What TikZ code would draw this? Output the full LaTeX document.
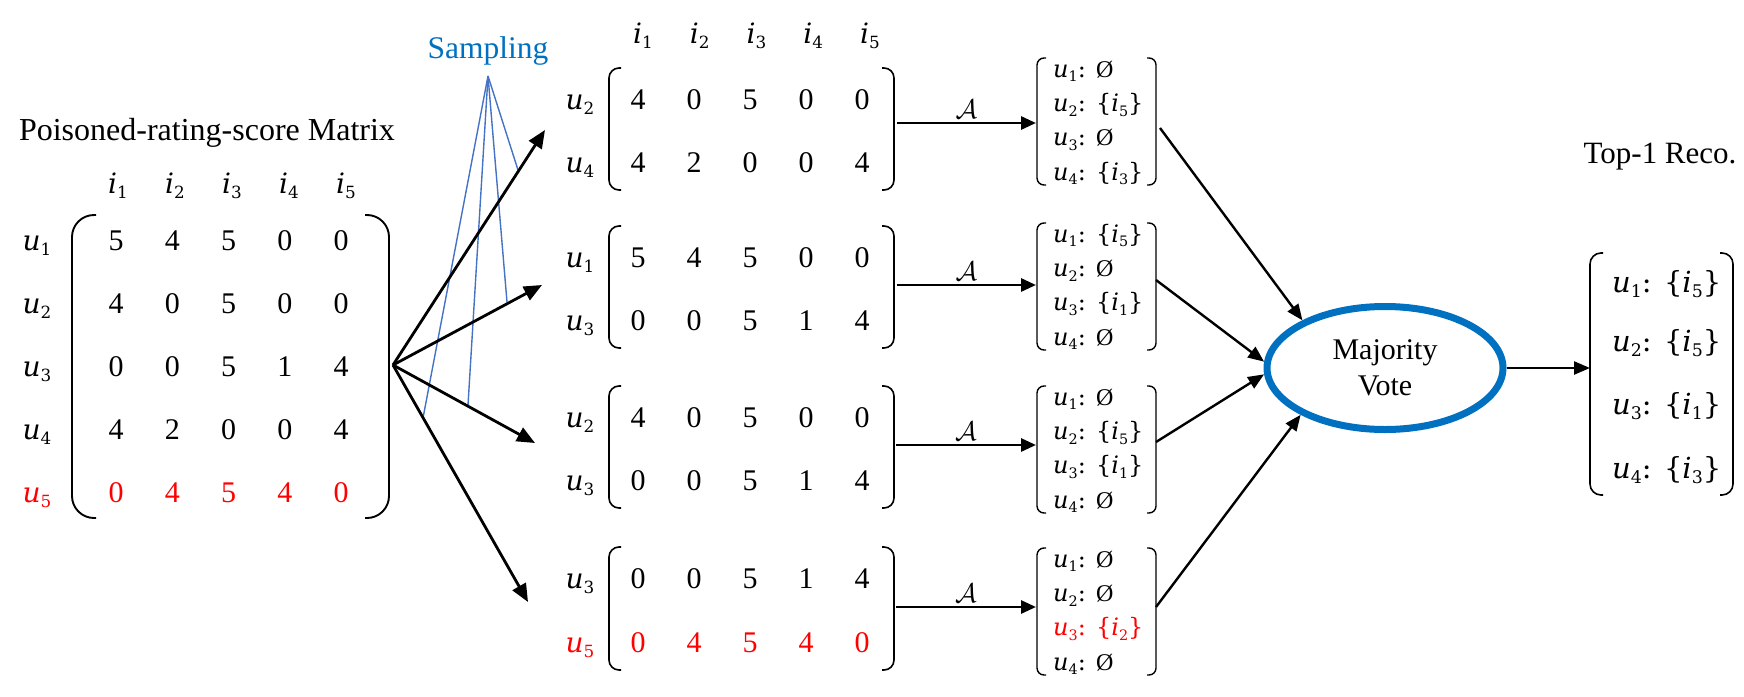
\RequirePackage{fix-cm}
\documentclass[tikz,border=0pt]{standalone}
\usepackage{fontspec}
\setmainfont{Liberation Serif}
\newfontfamily\dvs{DejaVu Serif}
\usetikzlibrary{arrows.meta,shapes.geometric}
\definecolor{vblue}{RGB}{0,112,192}
\definecolor{sblue}{RGB}{68,114,196}
\definecolor{pred}{RGB}{255,0,0}
\newcommand{\fsz}[1]{\fontsize{#1}{#1}\selectfont}
% italic letter with subscript, Cambria-like
\newcommand{\ui}[2]{\mbox{\dvs\itshape #1\/}\raisebox{-0.2em}{\scalebox{0.6}{\dvs #2}}}
\newcommand{\es}{{\rmfamily\upshape Ø}}
% pair of rounded brackets: [width] xl xr top bottom radius
\newcommand{\brpair}[6][1.8pt]{%
  \draw[line width=#1, rounded corners=#6pt] ({#2+#6+2},{#4}) -- ({#2},{#4}) -- ({#2},{#5}) -- ({#2+#6+2},{#5});
  \draw[line width=#1, rounded corners=#6pt] ({#3-#6-2},{#4}) -- ({#3},{#4}) -- ({#3},{#5}) -- ({#3-#6-2},{#5});}
\tikzset{
  num/.style={anchor=base, inner sep=0pt, font=\fsz{30}},
  lbl/.style={anchor=base, inner sep=0pt, font=\fsz{28}},
  hdr/.style={anchor=base, inner sep=0pt, font=\fsz{28}},
  setrow/.style={anchor=base west, inner sep=0pt, font=\fsz{24}\dvs},
  toprow/.style={anchor=base west, inner sep=0pt, font=\fsz{29}\dvs},
  caption/.style={anchor=base, inner sep=0pt, font=\fsz{31}},
  samparrow/.style={line width=2.8pt, -{Triangle[length=18pt,width=15pt]}},
  algarrow/.style={line width=2.8pt, -{Triangle[length=15pt,width=13pt]}},
  votearrow/.style={line width=2.4pt, -{Triangle[length=16pt,width=13pt]}},
  sampline/.style={line width=1.4pt, draw=sblue},
}
\begin{document}
\begin{tikzpicture}[x=1pt,y=-1pt]
\useasboundingbox (0,0) rectangle (1744,696);

% ---------- left poisoned matrix ----------
\node[caption, font=\fsz{32}] (title) at (207,140) {Poisoned-rating-score Matrix};
\foreach \c in {1,...,5} {
  \node[hdr] (Lh\c) at ({118+57*(\c-1)},193) {\ui{i}{\c}};
}
\foreach \r/\yy/\vals/\cl in {1/250/{5,4,5,0,0}/black, 2/313/{4,0,5,0,0}/black, 3/376/{0,0,5,1,4}/black, 4/439/{4,2,0,0,4}/black, 5/502/{0,4,5,4,0}/pred} {
  \node[lbl, text=\cl] (Lu\r) at (37,\yy) {\ui{u}{\r}};
  \foreach \v [count=\c] in \vals {
    \node[num, text=\cl] (L\r-\c) at ({116+56.25*(\c-1)},\yy) {\v};
  }
}
\brpair[1.9pt]{72}{389}{215}{518}{22}
\coordinate (src) at (393,365);

% ---------- sampling ----------
\node[caption, font=\fsz{31.5}, text=vblue] (samp) at (488,58) {Sampling};
\coordinate (apex) at (488,76);
\coordinate (b1) at (423,418);
\coordinate (b2) at (468,405);
\coordinate (b3) at (507,302);
\coordinate (b4) at (518,170);
\foreach \k in {1,...,4} { \draw[sampline] (apex) -- (b\k); }

% ---------- sampled sub-matrices ----------
\foreach \c in {1,...,5} {
  \node[hdr] (Mh\c) at ({643+56.75*(\c-1)},43) {\ui{i}{\c}};
}
\foreach \m/\ya/\yb/\ua/\ub/\va/\vb/\cb in {
   1/109/172/2/4/{4,0,5,0,0}/{4,2,0,0,4}/black,
   2/267/330/1/3/{5,4,5,0,0}/{0,0,5,1,4}/black,
   3/427/490/2/3/{4,0,5,0,0}/{0,0,5,1,4}/black,
   4/588/652/3/5/{0,0,5,1,4}/{0,4,5,4,0}/pred} {
  \node[lbl] (M\m-ua) at (580,\ya) {\ui{u}{\ua}};
  \node[lbl, text=\cb] (M\m-ub) at (580,\yb) {\ui{u}{\ub}};
  \foreach \v [count=\c] in \va {
    \node[num] (M\m-a\c) at ({638+56*(\c-1)},\ya) {\v};
  }
  \foreach \v [count=\c] in \vb {
    \node[num, text=\cb] (M\m-b\c) at ({638+56*(\c-1)},\yb) {\v};
  }
  \brpair[1.6pt]{609}{894}{\ya-41}{\yb+18}{10}
}
\coordinate (t1) at (545,130);
\coordinate (t2) at (542,285);
\coordinate (t3) at (535,443);
\coordinate (t4) at (528,602);
\foreach \k in {1,...,4} { \draw[samparrow] (src) -- (t\k); }

% ---------- per-sample recommendations ----------
\newcommand{\recset}[7]{%
  \node[setrow] (#1-1) at (1053,{#2+19}) {\ui{u}{1}: #3};
  \node[setrow] (#1-2) at (1053,{#2+53.3}) {\ui{u}{2}: #4};
  \node[setrow, text=#7] (#1-3) at (1053,{#2+87.6}) {\ui{u}{3}: #5};
  \node[setrow] (#1-4) at (1053,{#2+122}) {\ui{u}{4}: #6};
  \brpair[1.4pt]{1037}{1156}{#2}{#2+127}{7}}
\recset{S1}{58}{\es}{\{\ui{i}{5}\}}{\es}{\{\ui{i}{3}\}}{black}
\recset{S2}{223}{\{\ui{i}{5}\}}{\es}{\{\ui{i}{1}\}}{\es}{black}
\recset{S3}{386}{\es}{\{\ui{i}{5}\}}{\{\ui{i}{1}\}}{\es}{black}
\recset{S4}{548}{\es}{\es}{\{\ui{i}{2}\}}{\es}{pred}

% ---------- algorithm arrows ----------
\coordinate (M1out) at (897,123);  \coordinate (S1in) at (1036,123);
\coordinate (M2out) at (897,285);  \coordinate (S2in) at (1036,285);
\coordinate (M3out) at (896,445);  \coordinate (S3in) at (1036,445);
\coordinate (M4out) at (896,607);  \coordinate (S4in) at (1036,607);
\foreach \k in {1,...,4} {
  \draw[algarrow] (M\k out) -- node[above, inner sep=3pt, font=\fsz{27}] (A\k) {$\mathcal{A}$} (S\k in);
}

% ---------- majority vote ----------
\node[ellipse, draw=vblue, line width=7pt, minimum width=236pt, minimum height=123pt,
      inner sep=0pt, align=center, font=\fontsize{30}{36}\selectfont] (vote) at (1385,368) {Majority\\Vote};
\coordinate (S1out) at (1160,128);
\coordinate (S2out) at (1156,280);
\coordinate (S3out) at (1156,442);
\coordinate (S4out) at (1156,607);
\draw[votearrow] (S1out) -- (vote.150.6);
\draw[votearrow] (S2out) -- (vote.177);
\draw[votearrow] (S3out) -- (vote.183);
\draw[votearrow] (S4out) -- (vote.209.8);

% ---------- final top-1 recommendation ----------
\node[caption] (reco) at (1660,163) {Top-1 Reco.};
\node[toprow] (R1) at (1612,292) {\ui{u}{1}: \{\ui{i}{5}\}};
\node[toprow] (R2) at (1612,351) {\ui{u}{2}: \{\ui{i}{5}\}};
\node[toprow] (R3) at (1612,414) {\ui{u}{3}: \{\ui{i}{1}\}};
\node[toprow] (R4) at (1612,478) {\ui{u}{4}: \{\ui{i}{3}\}};
\brpair[1.6pt]{1590}{1733}{253}{495}{11}
\coordinate (Rin) at (1590,368);
\draw[votearrow] (vote.east) -- (Rin);
\end{tikzpicture}
\end{document}
